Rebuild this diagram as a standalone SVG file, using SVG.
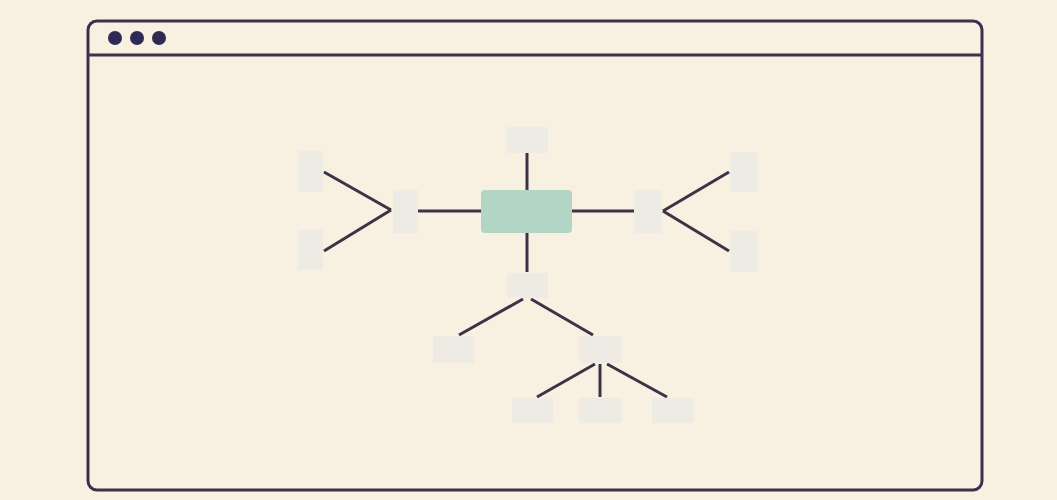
<svg xmlns="http://www.w3.org/2000/svg" width="1057" height="500" viewBox="0 0 1057 500">
<style>
.node{fill:#eeeae4}
.main{fill:#b3d5c5}
.ln{stroke:#3d3346;stroke-width:3;fill:none;stroke-linecap:butt}
.frame{stroke:#3a3152;stroke-width:3;fill:#f8f1e2}
.dot{fill:#2f2a55}
</style>
<rect x="0" y="0" width="1057" height="500" fill="#f8f1e2"/>
<g id="window">
<rect class="frame" x="88" y="21" width="894" height="469" rx="9"/>
<line class="ln" x1="88" y1="55" x2="982" y2="55" stroke="#3a3152"/>
<circle class="dot" cx="115" cy="38" r="7"/>
<circle class="dot" cx="137" cy="38" r="7"/>
<circle class="dot" cx="159" cy="38" r="7"/>
</g>
<g id="connectors">
<line class="ln" x1="324" y1="172" x2="391" y2="210"/>
<line class="ln" x1="324" y1="251" x2="391" y2="210"/>
<line class="ln" x1="418" y1="211" x2="481" y2="211"/>
<line class="ln" x1="572" y1="211" x2="634" y2="211"/>
<line class="ln" x1="729" y1="172" x2="663" y2="211"/>
<line class="ln" x1="729" y1="251" x2="663" y2="211"/>
<line class="ln" x1="527" y1="153" x2="527" y2="190"/>
<line class="ln" x1="527" y1="233" x2="527" y2="272"/>
<line class="ln" x1="523" y1="299" x2="459" y2="335"/>
<line class="ln" x1="531" y1="299" x2="593" y2="335"/>
<line class="ln" x1="595" y1="364" x2="537" y2="397"/>
<line class="ln" x1="600" y1="364" x2="600" y2="397"/>
<line class="ln" x1="607" y1="364" x2="667" y2="397"/>
</g>
<g id="n-center"><rect class="main" x="481" y="190" width="91" height="43" rx="4"/></g>
<g id="n-top"><rect class="node" x="507" y="127" width="41" height="26"/></g>
<g id="n-left"><rect class="node" x="393" y="190" width="25" height="43"/></g>
<g id="n-left-top"><rect class="node" x="298" y="151" width="25" height="41"/></g>
<g id="n-left-bottom"><rect class="node" x="298" y="230" width="25" height="40"/></g>
<g id="n-right"><rect class="node" x="634" y="190" width="28" height="43"/></g>
<g id="n-right-top"><rect class="node" x="730" y="152" width="27" height="40"/></g>
<g id="n-right-bottom"><rect class="node" x="730" y="231" width="27" height="41"/></g>
<g id="n-bottom"><rect class="node" x="507" y="273" width="41" height="25"/></g>
<g id="n-b-left"><rect class="node" x="433" y="336" width="41" height="27"/></g>
<g id="n-b-right"><rect class="node" x="579" y="336" width="43" height="27"/></g>
<g id="n-bb-1"><rect class="node" x="512" y="398" width="41" height="25"/></g>
<g id="n-bb-2"><rect class="node" x="579" y="398" width="43" height="25"/></g>
<g id="n-bb-3"><rect class="node" x="652" y="398" width="42" height="25"/></g>
</svg>
